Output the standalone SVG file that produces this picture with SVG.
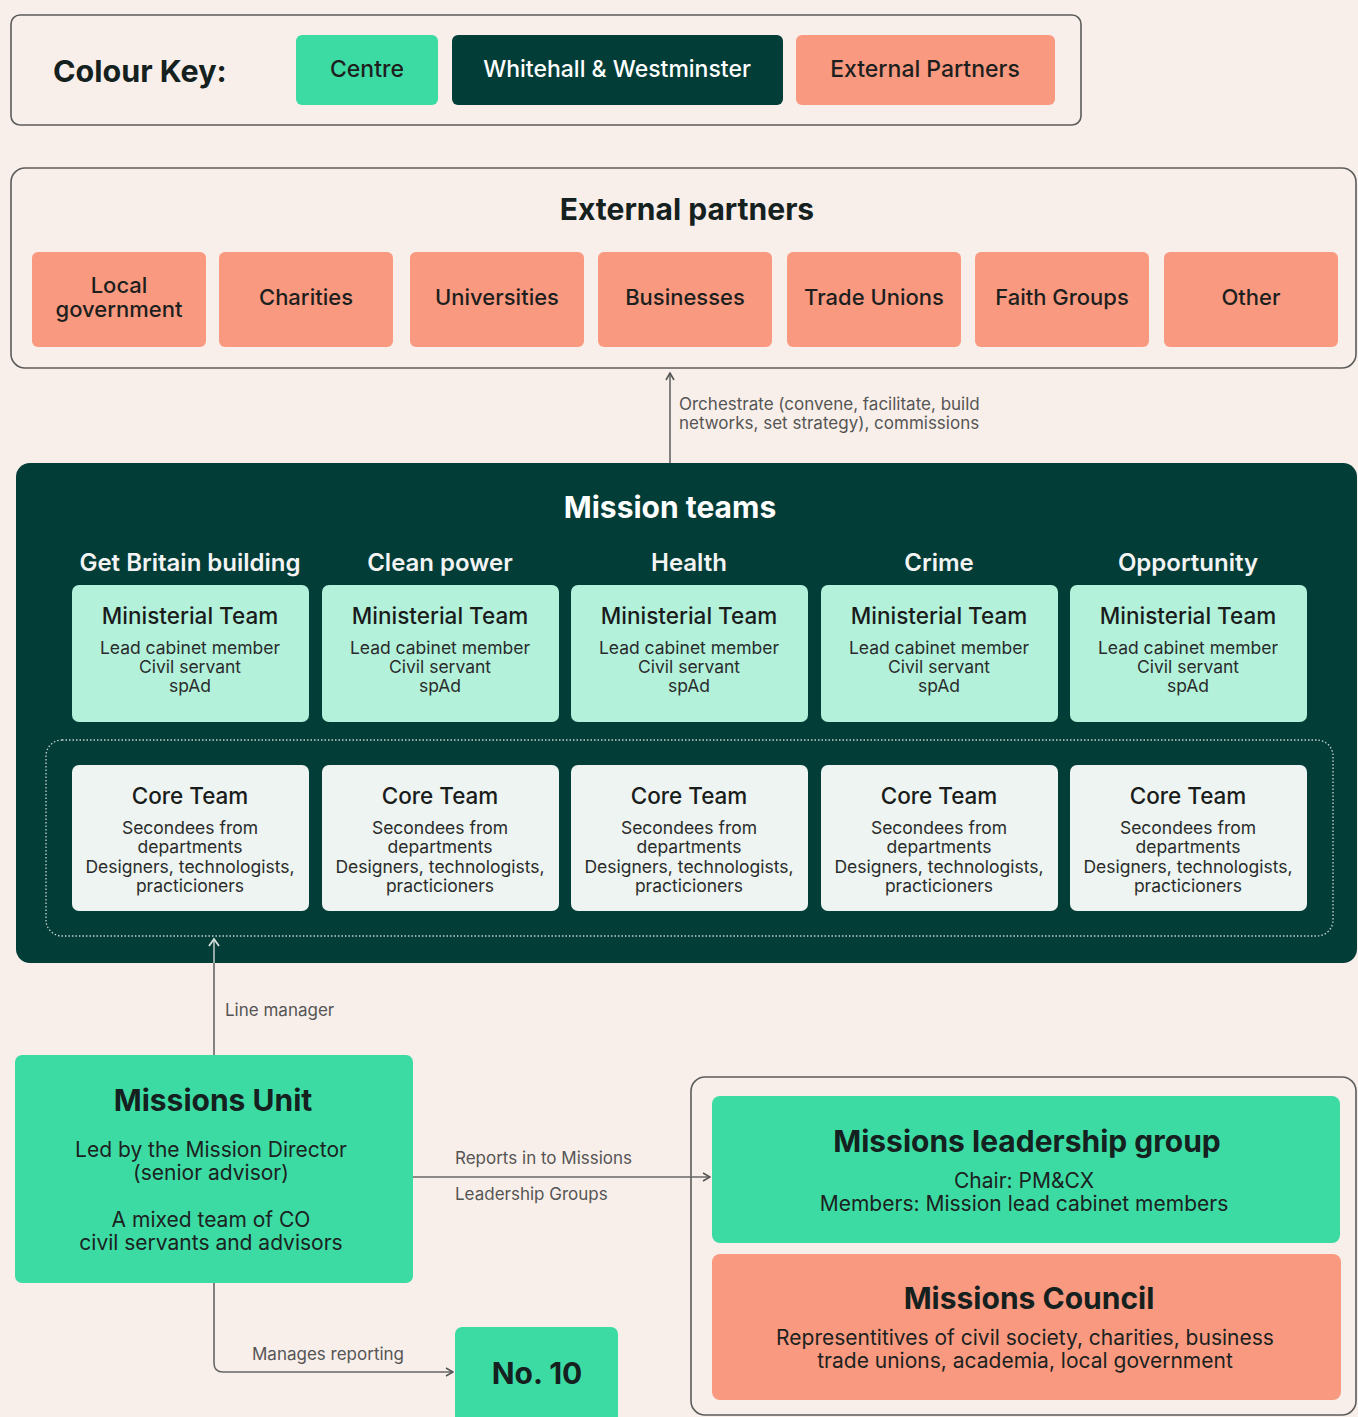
<svg xmlns="http://www.w3.org/2000/svg" width="1358" height="1417" viewBox="0 0 1358 1417">
<defs>
<style>
text{font-family:Inter,"Liberation Sans",sans-serif;text-anchor:middle}
.frame{fill:none;stroke:#5c5c5c;stroke-width:1.6}
.green{fill:#3ddba4}
.dark{fill:#033d38}
.salmon{fill:#f99a80}
.mint{fill:#b3f1db}
.core{fill:#edf4f1}
.h1{font-size:30px;font-weight:700;fill:#14211e}
.h1w{font-size:30px;font-weight:700;fill:#ffffff}
.chip{font-size:22px;font-weight:500;fill:#1d1f1e}
.keychip{font-size:23px;font-weight:500;fill:#1d1f1e}
.colh{font-size:24px;font-weight:600;fill:#f4f4f4}
.t2{font-size:22.5px;font-weight:500;fill:#1a1c1b}
.body{font-size:17.5px;fill:#2a2c2b}
.body2{font-size:21px;fill:#1b2220}
.lbl{font-size:17px;fill:#555;text-anchor:start}
.conn{fill:none;stroke:#666;stroke-width:1.6}
</style>
<marker id="chev" viewBox="0 0 10 10" refX="9" refY="5" markerWidth="10" markerHeight="10" markerUnits="userSpaceOnUse" orient="auto">
<path d="M2,1 L9,5 L2,9" fill="none" stroke="#555" stroke-width="1.6"/>
</marker>
<marker id="chevL" viewBox="0 0 12 12" refX="10" refY="6" markerWidth="12" markerHeight="12" markerUnits="userSpaceOnUse" orient="auto">
<path d="M3,1 L10,6 L3,11" fill="none" stroke="#d8e0dd" stroke-width="1.8"/>
</marker>
</defs>
<rect x="0" y="0" width="1358" height="1417" fill="#f9efea"/>

<g id="colour-key">
<rect class="frame" x="11" y="15" width="1070" height="110" rx="9"/>
<text x="53" y="82" style="font-size:30.5px;font-weight:700;fill:#14211e;text-anchor:start">Colour Key:</text>
<rect class="green" x="296" y="35" width="142" height="70" rx="6"/>
<text class="keychip" x="367" y="77">Centre</text>
<rect class="dark" x="452" y="35" width="331" height="70" rx="6"/>
<text class="keychip" x="617" y="77" style="fill:#ffffff">Whitehall &amp; Westminster</text>
<rect class="salmon" x="796" y="35" width="259" height="70" rx="6"/>
<text class="keychip" x="925" y="77">External Partners</text>
</g>

<g id="external-partners">
<rect class="frame" x="11" y="168" width="1345" height="200" rx="14"/>
<text class="h1" x="687" y="220">External partners</text>
</g>
<g id="local-government">
<rect class="salmon" x="32" y="252" width="174" height="95" rx="6"/>
<text class="chip" x="119" y="293">Local</text>
<text class="chip" x="119" y="317">government</text>
</g>
<g id="charities">
<rect class="salmon" x="219" y="252" width="174" height="95" rx="6"/>
<text class="chip" x="306" y="305">Charities</text>
</g>
<g id="universities">
<rect class="salmon" x="410" y="252" width="174" height="95" rx="6"/>
<text class="chip" x="497" y="305">Universities</text>
</g>
<g id="businesses">
<rect class="salmon" x="598" y="252" width="174" height="95" rx="6"/>
<text class="chip" x="685" y="305">Businesses</text>
</g>
<g id="trade-unions">
<rect class="salmon" x="787" y="252" width="174" height="95" rx="6"/>
<text class="chip" x="874" y="305">Trade Unions</text>
</g>
<g id="faith-groups">
<rect class="salmon" x="975" y="252" width="174" height="95" rx="6"/>
<text class="chip" x="1062" y="305">Faith Groups</text>
</g>
<g id="other">
<rect class="salmon" x="1164" y="252" width="174" height="95" rx="6"/>
<text class="chip" x="1251" y="305">Other</text>
</g>

<g id="mission-teams">
<rect class="dark" x="16" y="463" width="1341" height="500" rx="14"/>
<text class="h1w" x="670" y="518">Mission teams</text>
<text class="colh" x="190" y="571">Get Britain building</text>
<text class="colh" x="440" y="571">Clean power</text>
<text class="colh" x="689" y="571">Health</text>
<text class="colh" x="939" y="571">Crime</text>
<text class="colh" x="1188" y="571">Opportunity</text>
<rect x="46" y="740" width="1287" height="196" rx="16" fill="none" stroke="#c9d3d0" stroke-width="1.3" stroke-dasharray="1.5 2"/>
</g>

<g id="ministerial-1">
<rect class="mint" x="72" y="585" width="237" height="137" rx="7"/>
<text class="t2" x="190" y="624">Ministerial Team</text>
<text class="body" x="190" y="654">Lead cabinet member</text>
<text class="body" x="190" y="673">Civil servant</text>
<text class="body" x="190" y="692">spAd</text>
</g>
<g id="ministerial-2">
<rect class="mint" x="322" y="585" width="237" height="137" rx="7"/>
<text class="t2" x="440" y="624">Ministerial Team</text>
<text class="body" x="440" y="654">Lead cabinet member</text>
<text class="body" x="440" y="673">Civil servant</text>
<text class="body" x="440" y="692">spAd</text>
</g>
<g id="ministerial-3">
<rect class="mint" x="571" y="585" width="237" height="137" rx="7"/>
<text class="t2" x="689" y="624">Ministerial Team</text>
<text class="body" x="689" y="654">Lead cabinet member</text>
<text class="body" x="689" y="673">Civil servant</text>
<text class="body" x="689" y="692">spAd</text>
</g>
<g id="ministerial-4">
<rect class="mint" x="821" y="585" width="237" height="137" rx="7"/>
<text class="t2" x="939" y="624">Ministerial Team</text>
<text class="body" x="939" y="654">Lead cabinet member</text>
<text class="body" x="939" y="673">Civil servant</text>
<text class="body" x="939" y="692">spAd</text>
</g>
<g id="ministerial-5">
<rect class="mint" x="1070" y="585" width="237" height="137" rx="7"/>
<text class="t2" x="1188" y="624">Ministerial Team</text>
<text class="body" x="1188" y="654">Lead cabinet member</text>
<text class="body" x="1188" y="673">Civil servant</text>
<text class="body" x="1188" y="692">spAd</text>
</g>

<g id="core-1">
<rect class="core" x="72" y="765" width="237" height="146" rx="7"/>
<text class="t2" x="190" y="804">Core Team</text>
<text class="body" x="190" y="834">Secondees from</text>
<text class="body" x="190" y="853">departments</text>
<text class="body" x="190" y="873">Designers, technologists,</text>
<text class="body" x="190" y="892">practicioners</text>
</g>
<g id="core-2">
<rect class="core" x="322" y="765" width="237" height="146" rx="7"/>
<text class="t2" x="440" y="804">Core Team</text>
<text class="body" x="440" y="834">Secondees from</text>
<text class="body" x="440" y="853">departments</text>
<text class="body" x="440" y="873">Designers, technologists,</text>
<text class="body" x="440" y="892">practicioners</text>
</g>
<g id="core-3">
<rect class="core" x="571" y="765" width="237" height="146" rx="7"/>
<text class="t2" x="689" y="804">Core Team</text>
<text class="body" x="689" y="834">Secondees from</text>
<text class="body" x="689" y="853">departments</text>
<text class="body" x="689" y="873">Designers, technologists,</text>
<text class="body" x="689" y="892">practicioners</text>
</g>
<g id="core-4">
<rect class="core" x="821" y="765" width="237" height="146" rx="7"/>
<text class="t2" x="939" y="804">Core Team</text>
<text class="body" x="939" y="834">Secondees from</text>
<text class="body" x="939" y="853">departments</text>
<text class="body" x="939" y="873">Designers, technologists,</text>
<text class="body" x="939" y="892">practicioners</text>
</g>
<g id="core-5">
<rect class="core" x="1070" y="765" width="237" height="146" rx="7"/>
<text class="t2" x="1188" y="804">Core Team</text>
<text class="body" x="1188" y="834">Secondees from</text>
<text class="body" x="1188" y="853">departments</text>
<text class="body" x="1188" y="873">Designers, technologists,</text>
<text class="body" x="1188" y="892">practicioners</text>
</g>

<g id="missions-unit">
<rect class="green" x="15" y="1055" width="398" height="228" rx="7"/>
<text class="h1" x="213" y="1111">Missions Unit</text>
<text class="body2" x="211" y="1157">Led by the Mission Director</text>
<text class="body2" x="211" y="1180">(senior advisor)</text>
<text class="body2" x="211" y="1227">A mixed team of CO</text>
<text class="body2" x="211" y="1250">civil servants and advisors</text>
</g>

<g id="no10">
<rect class="green" x="455" y="1327" width="163" height="100" rx="7"/>
<text class="h1" x="537" y="1384">No. 10</text>
</g>

<g id="governance">
<rect class="frame" x="691" y="1077" width="665" height="338" rx="14"/>
</g>
<g id="missions-leadership-group">
<rect class="green" x="712" y="1096" width="628" height="147" rx="8"/>
<text class="h1" x="1027" y="1152">Missions leadership group</text>
<text class="body2" x="1024" y="1188">Chair: PM&amp;CX</text>
<text class="body2" x="1024" y="1211">Members: Mission lead cabinet members</text>
</g>
<g id="missions-council">
<rect class="salmon" x="712" y="1254" width="629" height="146" rx="8"/>
<text class="h1" x="1029" y="1309">Missions Council</text>
<text class="body2" x="1025" y="1345">Representitives of civil society, charities, business</text>
<text class="body2" x="1025" y="1368">trade unions, academia, local government</text>
</g>

<g id="connectors">
<line class="conn" x1="670" y1="463" x2="670" y2="373" marker-end="url(#chev)"/>
<text class="lbl" x="679" y="410">Orchestrate (convene, facilitate, build</text>
<text class="lbl" x="679" y="429">networks, set strategy), commissions</text>
<line class="conn" x1="214" y1="1055" x2="214" y2="963"/>
<line x1="214" y1="963" x2="214" y2="939" fill="none" stroke="#b9c4c1" stroke-width="1.6" marker-end="url(#chevL)"/>
<text class="lbl" x="225" y="1016">Line manager</text>
<line class="conn" x1="413" y1="1177" x2="710" y2="1177" marker-end="url(#chev)"/>
<text class="lbl" x="455" y="1164">Reports in to Missions</text>
<text class="lbl" x="455" y="1200">Leadership Groups</text>
<path class="conn" d="M214,1283 V1363 Q214,1372 223,1372 H453" marker-end="url(#chev)"/>
<text class="lbl" x="252" y="1360">Manages reporting</text>
</g>
</svg>
